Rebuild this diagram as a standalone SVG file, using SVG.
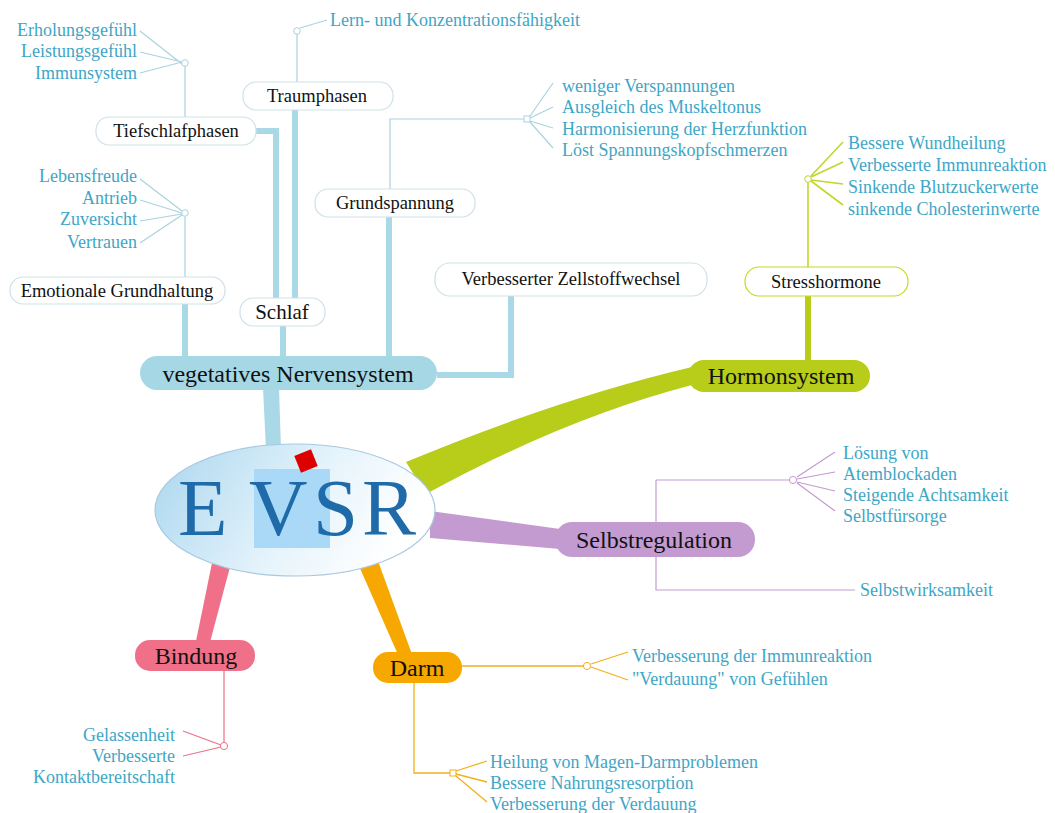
<svg xmlns="http://www.w3.org/2000/svg" width="1055" height="813" viewBox="0 0 1055 813">
<defs>
<linearGradient id="eg" x1="0" y1="0" x2="1" y2="0.3">
<stop offset="0" stop-color="#a9d6ee"/>
<stop offset="0.6" stop-color="#e4f3fb"/>
<stop offset="1" stop-color="#ffffff"/>
</linearGradient>
<style>
.leaf{font-family:"Liberation Serif",serif;font-size:18px;fill:#3ea6c6}
.lr{text-anchor:end}
.box{fill:#fff;stroke:#cfe1e8;stroke-width:1.2}
.bt{font-family:"Liberation Serif",serif;font-size:18.5px;fill:#111;text-anchor:middle}
.mt{font-family:"Liberation Serif",serif;font-size:24px;fill:#111;text-anchor:middle}
.vb{stroke:#a9d8e6;stroke-width:6;fill:none}
.vt{stroke:#a9d3df;stroke-width:1.2;fill:none}
.gt{stroke:#c3d62a;stroke-width:1.6;fill:none}
.lt{stroke:#c49bd0;stroke-width:1.2;fill:none}
.ot{stroke:#f2b01c;stroke-width:1.3;fill:none}
.pt{stroke:#ef7088;stroke-width:1.2;fill:none}
.big{font-family:"Liberation Serif",serif;font-size:81px;fill:#1f6aa9}
</style>
</defs>
<rect width="1055" height="813" fill="#fff"/>

<g id="connectors">
<path d="M263 388 L279 388 L281 450 L266 450 Z" fill="#a9d8e6"/>
<path d="M406 462 Q560 398 692 367 L692 385 Q565 418 426 494 Z" fill="#b8cc1a"/>
<path d="M430 511 L560 529 L560 549 L430 538 Z" fill="#c49bd0"/>
<path d="M359 566 L399 657 L413 657 L378 561 Z" fill="#f7a800"/>
<path d="M212 563 L195 646 L209 646 L230 567 Z" fill="#ef7088"/>

<path class="vb" d="M185 303 V358"/>
<path class="vb" d="M256 131 H276 V299"/>
<path class="vb" d="M295 110 V299"/>
<path class="vb" d="M283 326 V358"/>
<path class="vb" d="M389 217 V358"/>
<path class="vb" d="M511 296 V375 H437"/>
<path class="vt" d="M185 117 V66 M182 64 L140 31 M182 62 L140 52 M182 62 L140 73"/>
<path class="vt" d="M185 277 V217 M182 211 L140 179 M182 213 L140 200 M182 214 L140 221 M182 215 L140 243"/>
<path class="vt" d="M297 82 V34 M300 28 L327 20"/>
<path class="vt" d="M390 189 V119 H524 M530 116 L553 83 M530 118 L553 107 M530 121 L553 128 M530 122 L553 148"/>

<path d="M808 296 V362" stroke="#b8cc1a" stroke-width="6" fill="none"/>
<path class="gt" d="M808 267 V182 M811 176 L843 142 M811 177 L843 162 M811 180 L843 184 M811 181 L843 205"/>

<path class="lt" d="M656 480 V590 H855 M656 480 H789 M797 477 L835 452 M797 479 L835 472 M797 482 L835 491 M797 483 L835 511"/>

<path class="ot" d="M462 666 H583 M591 664 L628 652 M591 667 L628 680"/>
<path class="ot" d="M414 682 V773 H450 M456 771 L487 761 M456 774 L487 782 M456 776 L487 802"/>

<path class="pt" d="M224 670 V742 M221 745 L183 731 M221 747 L183 756"/>

<circle cx="185" cy="63" r="3.3" fill="#fff" stroke="#a9d3df"/>
<circle cx="185" cy="213" r="3.3" fill="#fff" stroke="#a9d3df"/>
<circle cx="297" cy="31" r="3.3" fill="#fff" stroke="#a9d3df"/>
<rect x="524" y="116" width="6" height="6" fill="#fff" stroke="#a9d3df"/>
<circle cx="808" cy="179" r="3.3" fill="#fff" stroke="#c3d62a"/>
<circle cx="793" cy="480" r="3.6" fill="#fff" stroke="#c49bd0"/>
<circle cx="587" cy="666" r="3.6" fill="#fff" stroke="#f2b01c"/>
<rect x="450" y="770" width="6" height="6" fill="#fff" stroke="#f2b01c"/>
<circle cx="224" cy="746" r="3.6" fill="#fff" stroke="#ef7088"/>
</g>

<g id="evsr">
<ellipse cx="295" cy="510" rx="140" ry="66" fill="url(#eg)" stroke="#a8c8e0" stroke-width="1.2"/>
<rect x="254" y="469" width="76" height="79" fill="#a9d9f6"/>
<rect x="297" y="452" width="18" height="18" fill="#dc0000" transform="rotate(-22 306 461)"/>
<text class="big" x="178" y="535">E</text>
<text class="big" x="249" y="535">V</text>
<text class="big" x="313" y="535">S</text>
<text class="big" x="362" y="535">R</text>
</g>

<g id="vns">
<rect x="140" y="356" width="297" height="34" rx="17" fill="#a6d7e4"/>
<text class="mt" x="288" y="382">vegetatives Nervensystem</text>
</g>
<g id="hormon">
<rect x="688" y="360" width="182" height="32" rx="16" fill="#b8cc1a"/>
<text class="mt" x="781" y="384">Hormonsystem</text>
</g>
<g id="selbst">
<rect x="555" y="522" width="200" height="35" rx="17" fill="#c49bd0"/>
<text class="mt" x="654" y="548">Selbstregulation</text>
</g>
<g id="darm">
<rect x="373" y="652" width="89" height="31" rx="15" fill="#f7a800"/>
<text class="mt" x="417" y="676">Darm</text>
</g>
<g id="bindung">
<rect x="135" y="640" width="120" height="31" rx="15" fill="#ef7088"/>
<text class="mt" x="196" y="664">Bindung</text>
</g>

<g id="emotionale">
<rect class="box" x="10" y="277" width="215" height="27" rx="13"/>
<text class="bt" x="117" y="297">Emotionale Grundhaltung</text>
</g>
<g id="tiefschlaf">
<rect class="box" x="96" y="117" width="160" height="28" rx="13"/>
<text class="bt" x="176" y="137">Tiefschlafphasen</text>
</g>
<g id="traum">
<rect class="box" x="243" y="82" width="150" height="28" rx="13"/>
<text class="bt" x="317" y="102">Traumphasen</text>
</g>
<g id="schlaf">
<rect class="box" x="240" y="298" width="85" height="28" rx="13"/>
<text class="bt" x="282" y="319" style="font-size:21px">Schlaf</text>
</g>
<g id="grundspannung">
<rect class="box" x="315" y="189" width="160" height="28" rx="13"/>
<text class="bt" x="395" y="209">Grundspannung</text>
</g>
<g id="zell">
<rect class="box" x="435" y="263" width="272" height="33" rx="15"/>
<text class="bt" x="571" y="285">Verbesserter Zellstoffwechsel</text>
</g>
<g id="stress">
<rect x="745" y="267" width="163" height="29" rx="14" fill="#fff" stroke="#c8d820" stroke-width="1.2"/>
<text class="bt" x="826" y="288">Stresshormone</text>
</g>

<g id="leaves">
<text class="leaf lr" x="137" y="36">Erholungsgefühl</text>
<text class="leaf lr" x="137" y="57">Leistungsgefühl</text>
<text class="leaf lr" x="137" y="79">Immunsystem</text>
<text class="leaf lr" x="137" y="182">Lebensfreude</text>
<text class="leaf lr" x="137" y="204">Antrieb</text>
<text class="leaf lr" x="137" y="225">Zuversicht</text>
<text class="leaf lr" x="137" y="248">Vertrauen</text>
<text class="leaf" x="330" y="26">Lern- und Konzentrationsfähigkeit</text>
<text class="leaf" x="562" y="92">weniger Verspannungen</text>
<text class="leaf" x="562" y="113">Ausgleich des Muskeltonus</text>
<text class="leaf" x="562" y="135">Harmonisierung der Herzfunktion</text>
<text class="leaf" x="562" y="156">Löst Spannungskopfschmerzen</text>
<text class="leaf" x="848" y="149">Bessere Wundheilung</text>
<text class="leaf" x="848" y="171">Verbesserte Immunreaktion</text>
<text class="leaf" x="848" y="193">Sinkende Blutzuckerwerte</text>
<text class="leaf" x="848" y="215">sinkende Cholesterinwerte</text>
<text class="leaf" x="843" y="459">Lösung von</text>
<text class="leaf" x="843" y="480">Atemblockaden</text>
<text class="leaf" x="843" y="501">Steigende Achtsamkeit</text>
<text class="leaf" x="843" y="522">Selbstfürsorge</text>
<text class="leaf" x="860" y="596">Selbstwirksamkeit</text>
<text class="leaf" x="632" y="662">Verbesserung der Immunreaktion</text>
<text class="leaf" x="632" y="685">"Verdauung" von Gefühlen</text>
<text class="leaf" x="490" y="768">Heilung von Magen-Darmproblemen</text>
<text class="leaf" x="490" y="789">Bessere Nahrungsresorption</text>
<text class="leaf" x="490" y="810">Verbesserung der Verdauung</text>
<text class="leaf lr" x="175" y="741">Gelassenheit</text>
<text class="leaf lr" x="175" y="762">Verbesserte</text>
<text class="leaf lr" x="175" y="783">Kontaktbereitschaft</text>
</g>
</svg>
